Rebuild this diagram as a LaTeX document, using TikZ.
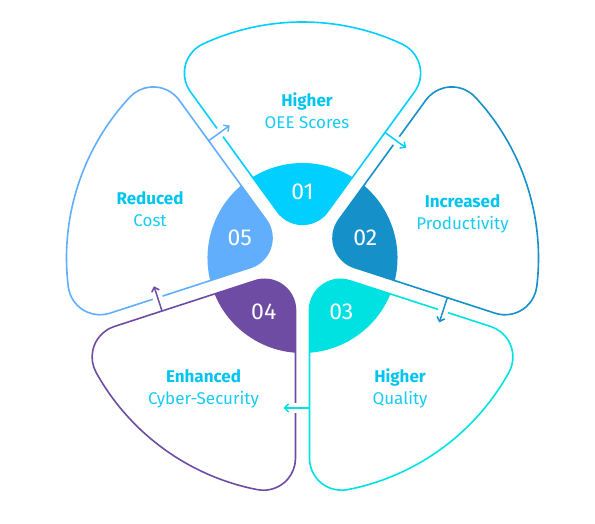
\documentclass[tikz,border=0pt]{standalone}
\usepackage{fontspec}
\setmainfont{Fira Sans}
\usetikzlibrary{arrows.meta}
\definecolor{cA}{RGB}{0,207,255}
\definecolor{cB}{RGB}{21,144,201}
\definecolor{cC}{RGB}{0,226,226}
\definecolor{cD}{RGB}{111,76,164}
\definecolor{cE}{RGB}{96,174,252}
\definecolor{tA}{RGB}{0,196,240}
\definecolor{tB}{RGB}{24,202,246}
\begin{document}
\begin{tikzpicture}[x=1pt,y=1pt,
  petal/.style={line width=1.6pt},
  flow/.style={line width=1.5pt,-{Straight Barb[length=4pt,width=8pt]}},
  num/.style={text=white,font=\fontsize{23}{26}\selectfont},
  lbl/.style={align=center,text=tA,font=\fontsize{17}{22}\selectfont},
]
\useasboundingbox (0,0) rectangle (595,524);
\coordinate (C) at (302.5,266);
% petal outlines
\foreach \k/\col in {0/cA,1/cB,2/cC,3/cD,4/cE} {
  \begin{scope}[shift={(C)},rotate=-72*\k]
    \draw[petal,draw=\col] (56.00:200.36) arc[start angle=-36,end angle=65.02,radius=32]
      arc[start angle=65.02,end angle=114.98,radius=236]
      arc[start angle=114.98,end angle=216,radius=32]
      -- (-25.08,46.43) arc[start angle=216,end angle=324,radius=31] -- cycle;
  \end{scope}
}
% coloured inner blobs
\foreach \k/\col in {0/cA,1/cB,2/cC,3/cD,4/cE} {
  \begin{scope}[shift={(C)},rotate=-72*\k]
    \clip (0,0) circle[radius=95];
    \fill[\col] (56.00:200.36) arc[start angle=-36,end angle=65.02,radius=32]
      arc[start angle=65.02,end angle=114.98,radius=236]
      arc[start angle=114.98,end angle=216,radius=32]
      -- (-25.08,46.43) arc[start angle=216,end angle=324,radius=31] -- cycle;
  \end{scope}
}
% flow arrows between petals
\foreach \ang/\col/\i in {126/cE/1,54/cA/2,-18/cB/3,-90/cC/4,-162/cD/5} {
  \begin{scope}[shift={(C)},rotate=\ang]
    \coordinate (s\i) at (150,7);
    \coordinate (e\i) at (150,-19);
    \draw[white,line width=3pt] (145,-7) -- (155,-7);
    \draw[flow,draw=\col] (s\i) -- (e\i);
  \end{scope}
}
% numbers
\foreach \k/\a in {1/90,2/18,3/-54,4/-126,5/162}
  \node[num] (n\k) at ([shift={(\a:66)}]C) {0\k};
% labels
\node[lbl] (t1) at (307,413) {{\bfseries Higher}\\\textcolor{tB}{OEE Scores}};
\node[lbl] (t2) at (462.5,310.5) {{\bfseries Increased}\\\textcolor{tB}{Productivity}};
\node[lbl] (t3) at (400,136) {{\bfseries Higher}\\\textcolor{tB}{Quality}};
\node[lbl] (t4) at (203.5,135) {{\bfseries Enhanced}\\\textcolor{tB}{Cyber-Security}};
\node[lbl] (t5) at (150,315) {{\bfseries Reduced}\\\textcolor{tB}{Cost}};
\end{tikzpicture}
\end{document}
